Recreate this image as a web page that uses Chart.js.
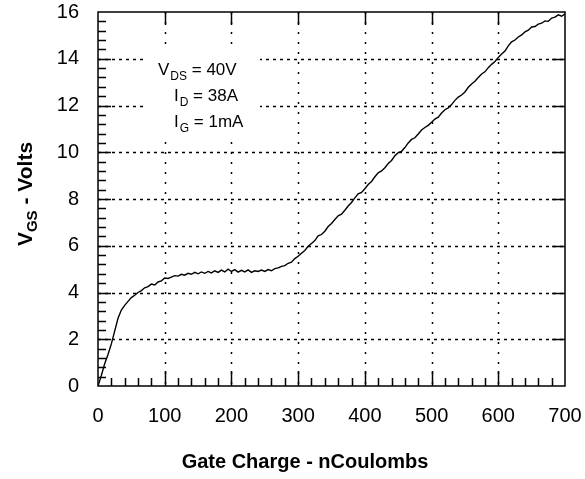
<!DOCTYPE html>
<html>
<head>
<meta charset="utf-8">
<script src="https://cdn.jsdelivr.net/npm/chart.js@4"></script>
<style>
  html, body { margin: 0; padding: 0; background: #fff; }
  #wrap { width: 585px; height: 479px; }
</style>
</head>
<body>
<div id="wrap"><canvas id="gateChart" width="585" height="479"></canvas></div>
<script>
// gate charge (nC) and gate-source voltage (V)
const gateCharge = [0, 5, 10, 15, 20, 25, 30, 35, 40, 45, 50, 55, 60, 65, 70, 75, 80, 85, 90, 95,
    100, 105, 110, 115, 120, 125, 130, 135, 140, 145, 150, 155, 160, 165, 170, 175, 180, 185, 190, 195,
    200, 205, 210, 215, 220, 225, 230, 235, 240, 245, 250, 255, 260, 265, 270, 275, 280, 285, 290, 295,
    300, 305, 310, 315, 320, 325, 330, 335, 340, 345, 350, 355, 360, 365, 370, 375, 380, 385, 390, 395,
    400, 405, 410, 415, 420, 425, 430, 435, 440, 445, 450, 455, 460, 465, 470, 475, 480, 485, 490, 495,
    500, 505, 510, 515, 520, 525, 530, 535, 540, 545, 550, 555, 560, 565, 570, 575, 580, 585, 590, 595,
    600, 605, 610, 615, 620, 625, 630, 635, 640, 645, 650, 655, 660, 665, 670, 675, 680, 685, 690, 695, 700];
const vgs = [0, 0.45, 0.95, 1.35, 1.8, 2.35, 2.9, 3.25, 3.45, 3.62, 3.78, 3.88, 4.0, 4.08, 4.2, 4.25, 4.36, 4.32, 4.45, 4.5,
    4.62, 4.6, 4.66, 4.72, 4.7, 4.78, 4.74, 4.82, 4.78, 4.86, 4.8, 4.88, 4.82, 4.9, 4.84, 4.93, 4.86, 4.96, 4.88, 5.0,
    4.9, 4.98, 4.87, 4.95, 4.88, 4.97, 4.86, 4.93, 4.9, 4.96, 4.9, 4.98, 4.93, 5.02, 5.05, 5.12, 5.15, 5.25, 5.3, 5.45,
    5.55, 5.68, 5.8, 5.98, 6.1, 6.22, 6.42, 6.48, 6.62, 6.82, 6.95, 7.12, 7.28, 7.35, 7.52, 7.7, 7.85, 8.05, 8.22, 8.28,
    8.44, 8.62, 8.75, 8.95, 9.12, 9.2, 9.34, 9.52, 9.65, 9.85, 9.98, 10.04, 10.2, 10.4, 10.55, 10.62, 10.78, 10.95, 11.06, 11.15,
    11.28, 11.42, 11.5, 11.68, 11.82, 11.9, 12.04, 12.22, 12.36, 12.45, 12.58, 12.78, 12.92, 13.04, 13.2, 13.35, 13.44, 13.62, 13.76, 13.88,
    14.05, 14.2, 14.33, 14.55, 14.72, 14.8, 14.93, 15.02, 15.15, 15.22, 15.36, 15.38, 15.48, 15.52, 15.62, 15.6, 15.74, 15.78, 15.88, 15.82, 15.92];

const xTicks = [0, 100, 200, 300, 400, 500, 600, 700];
const yTicks = [0, 2, 4, 6, 8, 10, 12, 14, 16];

const FONT = '"Liberation Sans", Arial, sans-serif';

const framePlugin = {
    id: 'frame',
    beforeDatasetsDraw(chart) {
        const { ctx, chartArea: a, scales: { x, y } } = chart;
        ctx.save();
        ctx.strokeStyle = '#000';
        ctx.lineWidth = 1.5;
        // dotted grid
        ctx.setLineDash([3, 4]);
        yTicks.slice(1, -1).forEach(v => {
            const py = Math.round(y.getPixelForValue(v)) + 0.5;
            ctx.beginPath(); ctx.moveTo(a.left, py); ctx.lineTo(a.right, py); ctx.stroke();
        });
        ctx.setLineDash([2, 8]);
        xTicks.slice(1, -1).forEach(v => {
            const px = Math.round(x.getPixelForValue(v)) + 0.5;
            ctx.beginPath(); ctx.moveTo(px, a.top); ctx.lineTo(px, a.bottom); ctx.stroke();
        });
        ctx.setLineDash([]);
        // white box behind the test conditions
        ctx.fillStyle = '#fff';
        ctx.fillRect(143, 47, 117, 88);
        ctx.restore();
    },
    afterDatasetsDraw(chart) {
        const { ctx, chartArea: a, scales: { x, y } } = chart;
        ctx.save();
        ctx.strokeStyle = '#000';
        ctx.lineWidth = 1.5;
        ctx.strokeRect(a.left, a.top, a.right - a.left, a.bottom - a.top);
        ctx.beginPath();
        // bottom axis: minor every 20, major every 100
        for (let v = 20; v < 700; v += 20) {
            const px = Math.round(x.getPixelForValue(v)) + 0.5;
            const len = v % 100 === 0 ? 15 : 8;
            ctx.moveTo(px, a.bottom); ctx.lineTo(px, a.bottom - len);
        }
        // top axis: major only
        xTicks.slice(1, -1).forEach(v => {
            const px = Math.round(x.getPixelForValue(v)) + 0.5;
            ctx.moveTo(px, a.top); ctx.lineTo(px, a.top + 13);
        });
        // left axis: minor every 0.4, major every 2
        for (let i = 1; i < 40; i++) {
            const v = i * 0.4;
            const py = Math.round(y.getPixelForValue(v)) + 0.5;
            const len = i % 5 === 0 ? 13 : 8;
            ctx.moveTo(a.left, py); ctx.lineTo(a.left + len, py);
        }
        // right axis: major only
        yTicks.slice(1, -1).forEach(v => {
            const py = Math.round(y.getPixelForValue(v)) + 0.5;
            ctx.moveTo(a.right, py); ctx.lineTo(a.right - 13, py);
        });
        ctx.stroke();
        ctx.restore();
    },
    afterDraw(chart) {
        const { ctx } = chart;
        ctx.save();
        ctx.fillStyle = '#000';
        ctx.textBaseline = 'alphabetic';

        // x title
        ctx.font = 'bold 20px ' + FONT;
        ctx.textAlign = 'center';
        ctx.fillText('Gate Charge - nCoulombs', 305, 468);

        // y title with subscript, rotated
        ctx.translate(32, 194);
        ctx.rotate(-Math.PI / 2);
        ctx.textAlign = 'left';
        const partV = 'V', partSub = 'GS', partRest = ' - Volts';
        ctx.font = 'bold 21px ' + FONT;
        const wV = ctx.measureText(partV).width;
        const wRest = ctx.measureText(partRest).width;
        ctx.font = 'bold 15px ' + FONT;
        const wSub = ctx.measureText(partSub).width;
        const sx = -(wV + wSub + wRest) / 2;
        ctx.font = 'bold 21px ' + FONT;
        ctx.fillText(partV, sx, 0);
        ctx.font = 'bold 15px ' + FONT;
        ctx.fillText(partSub, sx + wV, 5);
        ctx.font = 'bold 21px ' + FONT;
        ctx.fillText(partRest, sx + wV + wSub, 0);
        ctx.setTransform(1, 0, 0, 1, 0, 0);

        // test conditions
        const lines = [
            { main: 'V', sub: 'DS', rest: ' = 40V', x: 158, y: 75 },
            { main: 'I', sub: 'D', rest: ' = 38A', x: 174, y: 101 },
            { main: 'I', sub: 'G', rest: ' = 1mA', x: 174, y: 127 }
        ];
        lines.forEach(l => {
            ctx.font = '17px ' + FONT;
            ctx.fillText(l.main, l.x, l.y);
            const w1 = ctx.measureText(l.main).width;
            ctx.font = '12px ' + FONT;
            ctx.fillText(l.sub, l.x + w1 + 1, l.y + 5);
            const w2 = ctx.measureText(l.sub).width;
            ctx.font = '17px ' + FONT;
            ctx.fillText(l.rest, l.x + w1 + w2 + 1, l.y);
        });
        ctx.restore();
    }
};

new Chart(document.getElementById('gateChart'), {
    type: 'line',
    data: {
        datasets: [{
            data: gateCharge.map((q, i) => ({ x: q, y: vgs[i] })),
            borderColor: '#000',
            borderWidth: 1.4,
            pointRadius: 0,
            tension: 0,
            fill: false
        }]
    },
    options: {
        responsive: false,
        animation: false,
        layout: { padding: { top: 12, right: 20, left: 0, bottom: 0 } },
        plugins: { legend: { display: false }, tooltip: { enabled: false } },
        scales: {
            x: {
                type: 'linear', min: 0, max: 700,
                afterFit: s => { s.height = 93; s.paddingLeft = 0; s.paddingRight = 0; },
                grid: { display: false },
                border: { display: false },
                ticks: { stepSize: 100, padding: 10, color: '#000', font: { size: 20, family: FONT }, maxRotation: 0 }
            },
            y: {
                type: 'linear', min: 0, max: 16,
                afterFit: s => { s.width = 98; s.paddingTop = 0; s.paddingBottom = 0; },
                grid: { display: false },
                border: { display: false },
                ticks: { stepSize: 2, padding: 11, color: '#000', font: { size: 20, family: FONT } }
            }
        }
    },
    plugins: [framePlugin]
});
</script>
</body>
</html>
